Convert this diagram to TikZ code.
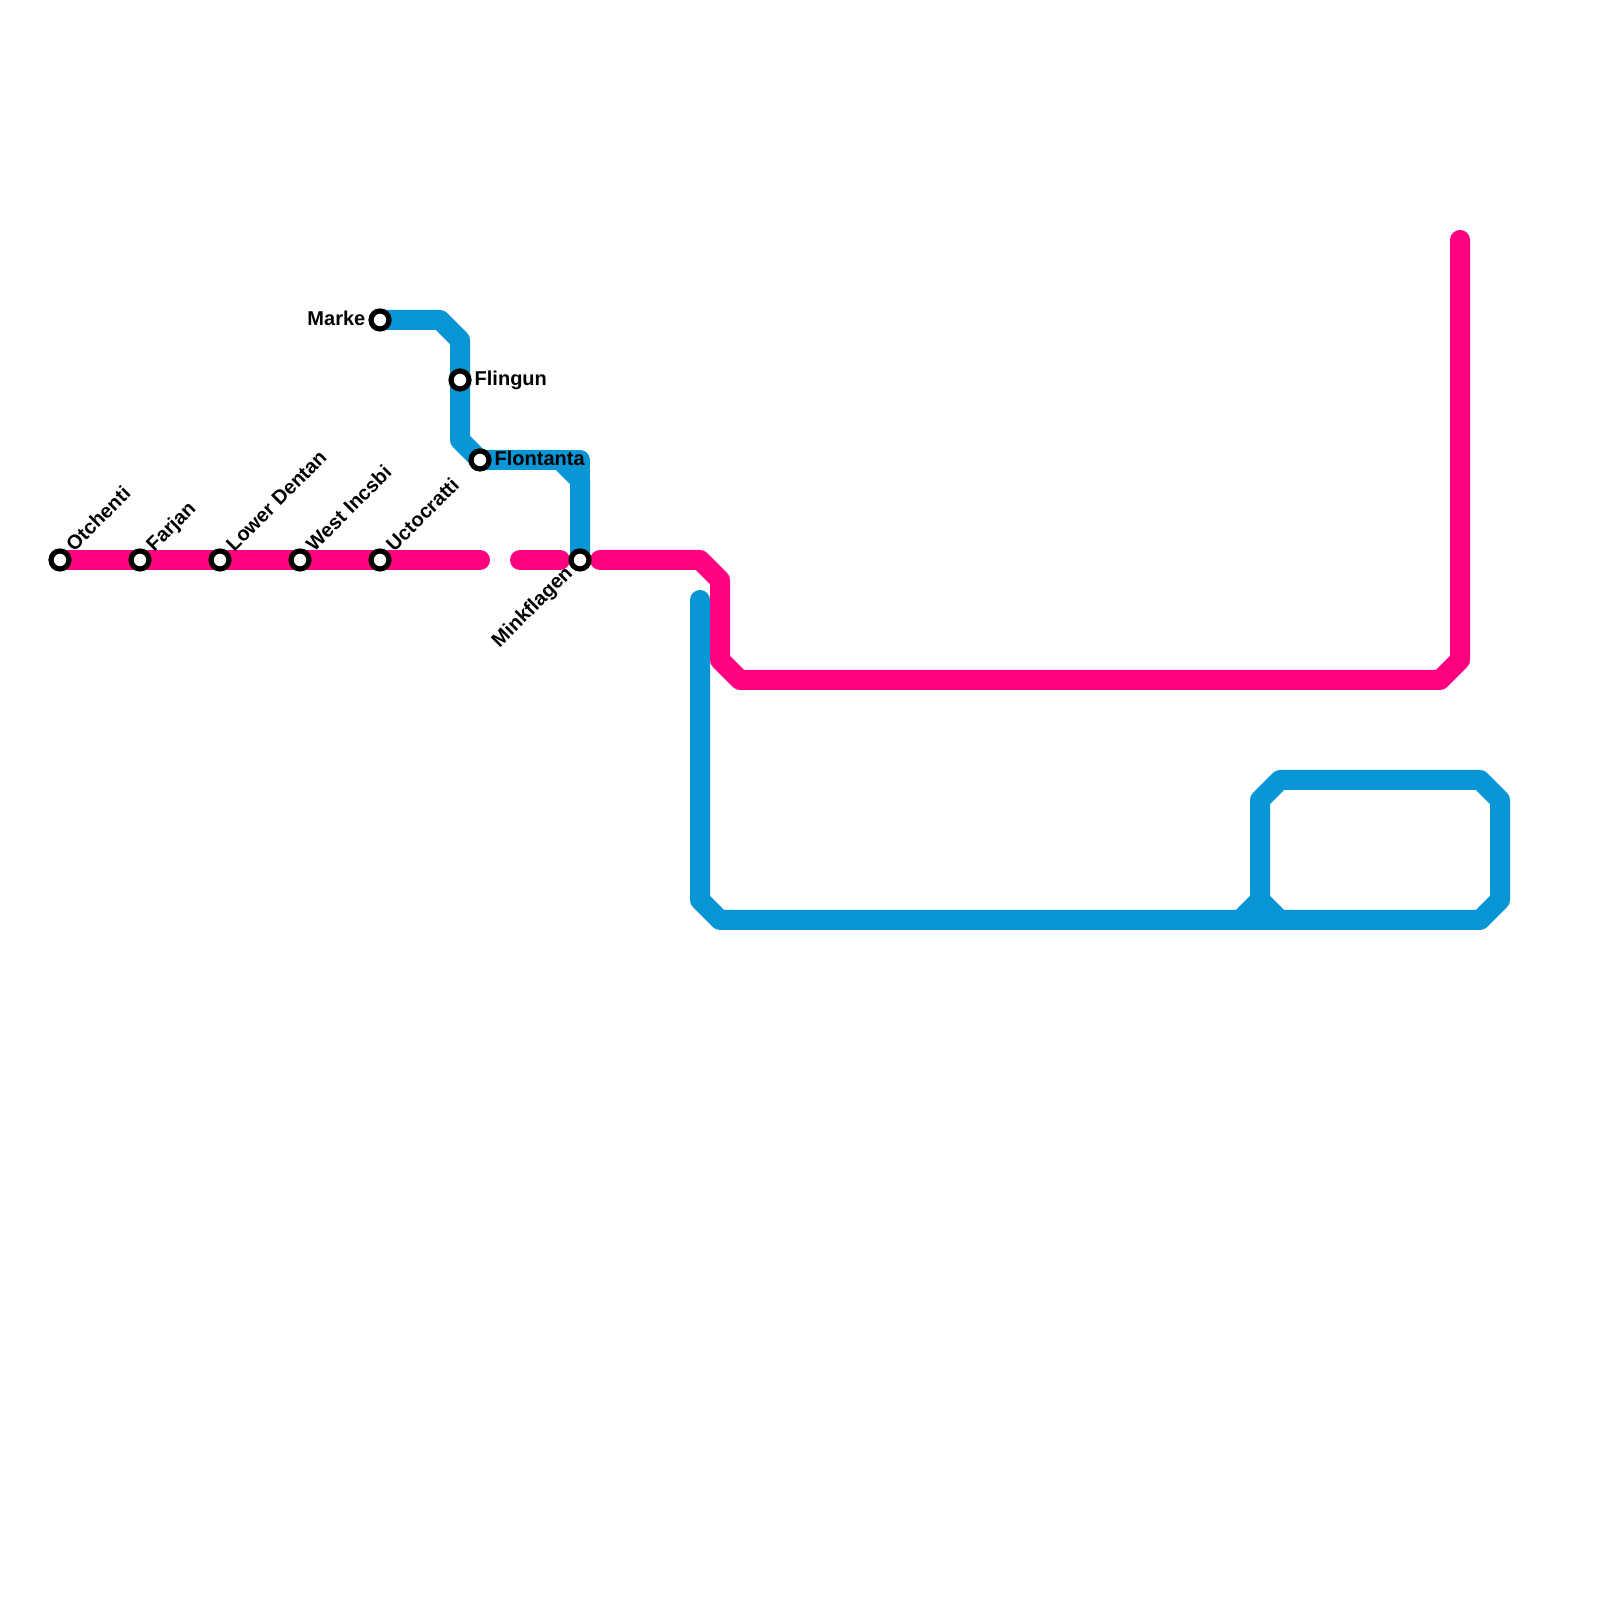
\documentclass[tikz,border=0pt]{standalone}
\usepackage{fontspec}
\setmainfont{Liberation Sans}
\usetikzlibrary{backgrounds}
\definecolor{linepink}{HTML}{FF0080}
\definecolor{lineblue}{HTML}{0896D7}
\tikzset{
  station/.style={circle, draw=black, fill=white, line width=0.052cm, minimum size=0.18cm, inner sep=0, outer sep=0},
  stationlabel/.style={inner sep=0, text height=0.15cm, text depth=0.04cm, font=\fontsize{5.69}{6}\selectfont\bfseries},
  metroline/.style={line width=0.2cm, line cap=round, line join=round},
}
\begin{document}
\begin{tikzpicture}
  \useasboundingbox (0,0) rectangle (16,16);

  \node[station] (otchenti) at (0.6,10.4) {};
  \node[station] (farjan) at (1.4,10.4) {};
  \node[station] (dentan) at (2.2,10.4) {};
  \node[station] (incsbi) at (3.0,10.4) {};
  \node[station] (uctocratti) at (3.8,10.4) {};
  \node[station] (minkflagen) at (5.8,10.4) {};
  \node[station] (marke) at (3.8,12.8) {};
  \node[station] (flingun) at (4.6,12.2) {};
  \node[station] (flontanta) at (4.8,11.4) {};

  \node[stationlabel, rotate=45, anchor=west] (otchentilabel) at (0.70,10.51) {Otchenti};
  \node[stationlabel, rotate=45, anchor=west] (farjanlabel) at (1.50,10.51) {Farjan};
  \node[stationlabel, rotate=45, anchor=west] (dentanlabel) at (2.30,10.51) {Lower Dentan};
  \node[stationlabel, rotate=45, anchor=west] (incsbilabel) at (3.10,10.51) {West Incsbi};
  \node[stationlabel, rotate=45, anchor=west] (uctocrattilabel) at (3.90,10.51) {Uctocratti};
  \node[stationlabel, rotate=45, anchor=east] (minkflagenlabel) at (5.70,10.30) {Minkflagen};
  \node[stationlabel, anchor=east] (markelabel) at (3.66,12.80) {Marke};
  \node[stationlabel, anchor=west] (flingunlabel) at (4.74,12.20) {Flingun};
  \node[stationlabel, anchor=west] (flontantalabel) at (4.94,11.40) {Flontanta};

  \coordinate (pinkstop) at (4.8,10.4);
  \coordinate (pinkgap) at (5.2,10.4);
  \coordinate (pinkgapend) at (5.6,10.4);
  \coordinate (pinkrestart) at (6.0,10.4);
  \coordinate (pinkend) at (14.6,13.6);
  \coordinate (bluestart) at (7.0,10.0);

  \begin{pgfonlayer}{background}
    \draw[metroline, linepink] (otchenti.center) -- (pinkstop);
    \draw[metroline, linepink] (pinkgap) -- (pinkgapend);
    \draw[metroline, linepink] (pinkrestart) -- (7.0,10.4) -- (7.2,10.2) -- (7.2,9.4) -- (7.4,9.2) -- (14.4,9.2) -- (14.6,9.4) -- (pinkend);

    \draw[metroline, lineblue] (marke.center) -- (4.4,12.8) -- (4.6,12.6) -- (flingun.center) -- (4.6,11.6) -- (flontanta.center) -- (5.6,11.4) -- (5.8,11.2) -- (minkflagen.center);
    \draw[metroline, lineblue] (5.6,11.4) -- (5.8,11.4) -- (5.8,11.2);
    \draw[metroline, lineblue] (bluestart) -- (7.0,7.0) -- (7.2,6.8) -- (14.8,6.8) -- (15.0,7.0) -- (15.0,8.0) -- (14.8,8.2) -- (12.8,8.2) -- (12.6,8.0) -- (12.6,7.0) -- (12.4,6.8);
    \draw[metroline, lineblue] (12.6,7.0) -- (12.8,6.8);
  \end{pgfonlayer}
\end{tikzpicture}
\end{document}
